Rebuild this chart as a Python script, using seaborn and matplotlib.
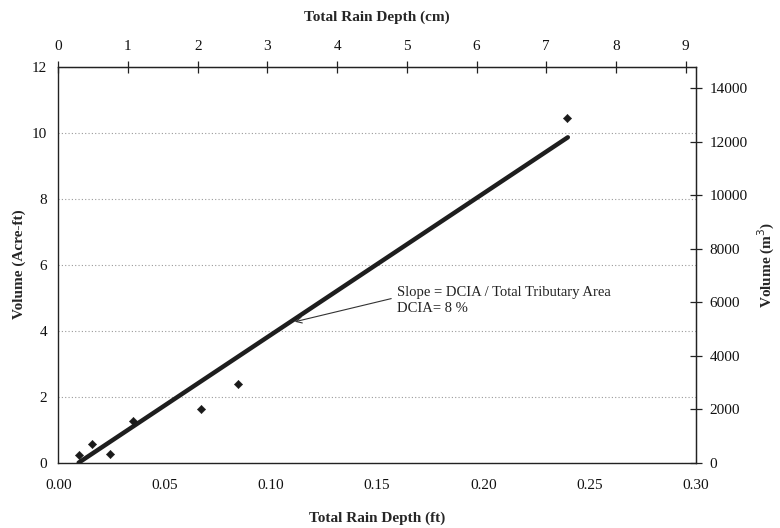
import matplotlib
matplotlib.use("Agg")
import matplotlib.pyplot as plt
import numpy as np
import pandas as pd
import seaborn as sns

# storm events: rain depth (ft) vs runoff volume (acre-ft)
rain_ft = [0.0099, 0.0160, 0.0242, 0.0350, 0.0670, 0.0848, 0.2395]
volume_acft = [0.24, 0.57, 0.27, 1.26, 1.62, 2.37, 10.43]

# fitted line end points
fit_ft = [0.0096, 0.2398]
fit_acft = [0.0, 9.86]

FT_TO_CM = 30.48
ACFT_TO_M3 = 1233.48

cm_ticks = list(range(0, 10))
m3_ticks = list(range(0, 14001, 2000))

points = pd.DataFrame({"rain": rain_ft, "volume": volume_acft})
fit = pd.DataFrame({"rain": fit_ft, "volume": fit_acft})

sns.set_style("white")
plt.rcParams["font.family"] = ["Liberation Serif", "DejaVu Serif"]

fig = plt.figure(figsize=(7.8, 5.28), dpi=100)
ax = fig.add_axes([0.0747, 0.1237, 0.8173, 0.75])

sns.lineplot(data=fit, x="rain", y="volume", ax=ax, color="#1e1e1e", linewidth=3.2)
sns.scatterplot(data=points, x="rain", y="volume", ax=ax, marker="D", s=18,
                color="#1a1a1a", edgecolor="#1a1a1a", zorder=5)

ax.set_xlim(0, 0.30)
ax.set_ylim(0, 12)
ax.set_xticks(np.arange(0, 0.301, 0.05))
ax.set_xticklabels([f"{t:.2f}" for t in np.arange(0, 0.301, 0.05)])
ax.set_yticks(range(0, 13, 2))
ax.yaxis.grid(True, linestyle=(0, (1, 2)), color="#9a9a9a", linewidth=0.8)
ax.xaxis.grid(False)

for side in ["left", "right", "top", "bottom"]:
    ax.spines[side].set_visible(True)
    ax.spines[side].set_color("#222222")
    ax.spines[side].set_linewidth(1.0)

ax.tick_params(axis="both", direction="inout", length=8, width=0.9,
               color="#222222", labelsize=11, labelcolor="#111111", pad=4)
ax.tick_params(axis="x", pad=8)

ax.set_xlabel("Total Rain Depth (ft)", fontsize=11, fontweight="bold", labelpad=14)
ax.set_ylabel("Volume (Acre-ft)", fontsize=11, fontweight="bold", labelpad=4)

top = ax.secondary_xaxis("top", functions=(lambda x: x * FT_TO_CM, lambda c: c / FT_TO_CM))
top.set_xticks(cm_ticks)
top.tick_params(direction="inout", length=8, width=0.9, color="#222222",
                labelsize=11, labelcolor="#111111", pad=6)
top.set_xlabel("Total Rain Depth (cm)", fontsize=11, fontweight="bold", labelpad=14)

right = ax.secondary_yaxis("right", functions=(lambda v: v * ACFT_TO_M3, lambda m: m / ACFT_TO_M3))
right.set_yticks(m3_ticks)
right.tick_params(direction="inout", length=8, width=0.9, color="#222222",
                  labelsize=11, labelcolor="#111111", pad=6)
right.set_ylabel("Volume (m$^3$)", fontsize=11, fontweight="bold", labelpad=6)

ax.annotate("Slope = DCIA / Total Tributary Area\nDCIA= 8 %",
            xy=(0.1113, 4.27), xytext=(0.1595, 4.91),
            ha="left", va="center", fontsize=10.5, color="#222222", linespacing=1.3,
            arrowprops=dict(arrowstyle="->", color="#333333", lw=0.8,
                            relpos=(0, 0.62), shrinkA=2, shrinkB=0))

fig.savefig("out.png", dpi=100)
